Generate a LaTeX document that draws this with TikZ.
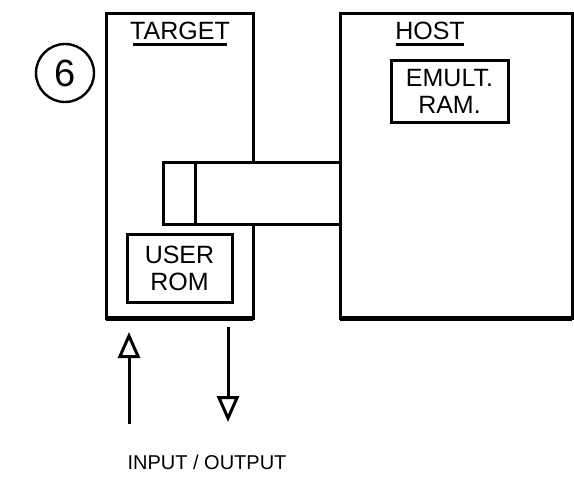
\documentclass[tikz,border=0pt]{standalone}
\usepackage{fontspec}
\setmainfont{Liberation Sans}
\usetikzlibrary{arrows.meta,calc}
\begin{document}
\begin{tikzpicture}[x=1pt,y=-1pt,
  box/.style={draw, line width=3pt, fill=white},
  lbl/.style={font=\fontsize{25}{27}\selectfont, inner sep=1pt},
  io/.style={line width=3pt, -{Triangle[open, length=26pt, width=22pt, line width=3pt]}}]
\useasboundingbox (0,0) rectangle (574,482);
% circled number
\node[draw, circle, line width=2.4pt, minimum size=58pt, inner sep=0pt, font=\fontsize{38}{40}\selectfont] (num) at (65,73) {6};
% target
\draw[box] (106,13) rectangle (253,318);
\draw[line width=5pt] (106,318) -- (253,318);
\node[lbl] (tgt) at (180,31) {TARGET};
\draw[line width=3pt] ($(tgt.south west)+(4,3)$) -- ($(tgt.south east)+(-4,3)$);
% host
\draw[box] (340,13) rectangle (572,318);
\draw[line width=5pt] (340,318) -- (572,318);
\node[lbl] (hst) at (430,31) {HOST};
\draw[line width=3pt] ($(hst.south west)+(2,3)$) -- ($(hst.south east)+(-2,3)$);
% emulation RAM
\node[box, minimum width=117pt, minimum height=62pt, align=center, lbl, inner sep=0pt] (ram) at (449.5,91) {EMULT.\\RAM.};
% user ROM
\node[box, minimum width=105pt, minimum height=68pt, align=center, lbl, inner sep=0pt] (rom) at (179.5,268) {USER\\ROM};
% connector cable
\draw[box] (163,162) rectangle (340,224);
\draw[line width=3pt] (195,162) -- (195,224);
% I/O arrows
\coordinate (inS) at (129,424);
\coordinate (inE) at (129,332);
\coordinate (outS) at (228,327);
\coordinate (outE) at (228,422);
\draw[io] (inS) -- (inE);
\draw[io] (outS) -- (outE);
\node[font=\fontsize{20}{22}\selectfont] (iotxt) at (207,462) {INPUT / OUTPUT};
\end{tikzpicture}
\end{document}
